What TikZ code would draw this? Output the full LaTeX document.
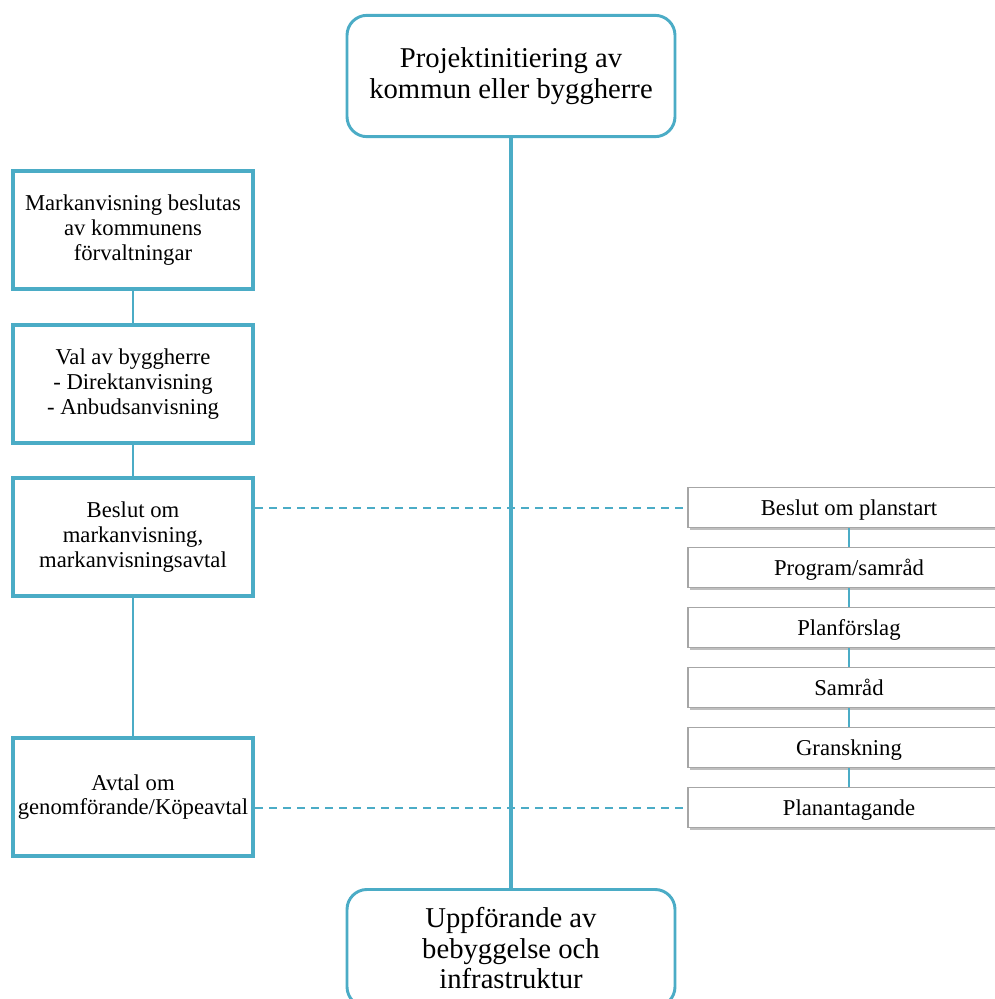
\documentclass[tikz,border=0pt]{standalone}
\usepackage{fontspec}
\setmainfont{Liberation Serif}
\usetikzlibrary{shadows}
\definecolor{tealc}{HTML}{4BACC6}
\definecolor{rgray}{HTML}{A6A6A6}
\begin{document}
\begin{tikzpicture}[x=0.75pt,y=-0.75pt,
  lbox/.style={draw=tealc, line width=3pt, fill=white, minimum width=180pt, minimum height=89pt, align=center, inner sep=2pt, font=\fontsize{17}{18.6}\selectfont},
  rbox/.style={draw=rgray, line width=0.9pt, fill=white, minimum width=241.5pt, minimum height=30.5pt, align=center, inner sep=1pt, text height=13pt, text depth=0.5pt, font=\fontsize{17}{19}\selectfont, drop shadow={opacity=0.5, shadow xshift=1.5pt, shadow yshift=-1.5pt}},
  cbox/.style={draw=tealc, line width=2.2pt, fill=white, rounded corners=15pt, minimum width=246pt, minimum height=91pt, align=center, font=\fontsize{21.5}{23}\selectfont},
  mainline/.style={draw=tealc, line width=3pt},
  thinline/.style={draw=tealc, line width=1.4pt},
  rline/.style={draw=tealc, line width=1pt},
  dashline/.style={draw=tealc, line width=1.5pt, dash pattern=on 6pt off 4.5pt}]
\useasboundingbox (0,0) rectangle (995,999);
\clip (0,0) rectangle (995,999);

% central boxes
\node[cbox] (top) at (511,76) {Projektinitiering av\\kommun eller byggherre};
\node[cbox, anchor=north, minimum height=88pt] (bot) at (511,888) {Uppförande av\\bebyggelse och\\infrastruktur};
\draw[mainline] (top.south) -- (bot.north);

% left column
\node[lbox] (l1) at (133,230) {Markanvisning beslutas\\av kommunens\\förvaltningar};
\node[lbox] (l2) at (133,384) {Val av byggherre\\- Direktanvisning\\- Anbudsanvisning};
\node[lbox] (l3) at (133,537) {Beslut om\\markanvisning,\\markanvisningsavtal};
\node[lbox] (l4) at (133,797) {Avtal om\\genomförande/Köpeavtal};
\draw[thinline] (l1.south) -- (l2.north);
\draw[thinline] (l2.south) -- (l3.north);
\draw[thinline] (l3.south) -- (l4.north);

% right column
\node[rbox] (r1) at (849,507.5) {Beslut om planstart};
\node[rbox] (r2) at (849,567.5) {Program/samråd};
\node[rbox] (r3) at (849,627.5) {Planförslag};
\node[rbox] (r4) at (849,687.5) {Samråd};
\node[rbox] (r5) at (849,747.5) {Granskning};
\node[rbox] (r6) at (849,807.5) {Planantagande};
\foreach \a/\b in {r1/r2,r2/r3,r3/r4,r4/r5,r5/r6}
  \draw[rline] (\a.south) -- (\b.north);

% dashed links
\draw[dashline] (l3.east |- r1.west) -- (r1.west);
\draw[dashline] (l4.east |- r6.west) -- (r6.west);
\end{tikzpicture}
\end{document}
